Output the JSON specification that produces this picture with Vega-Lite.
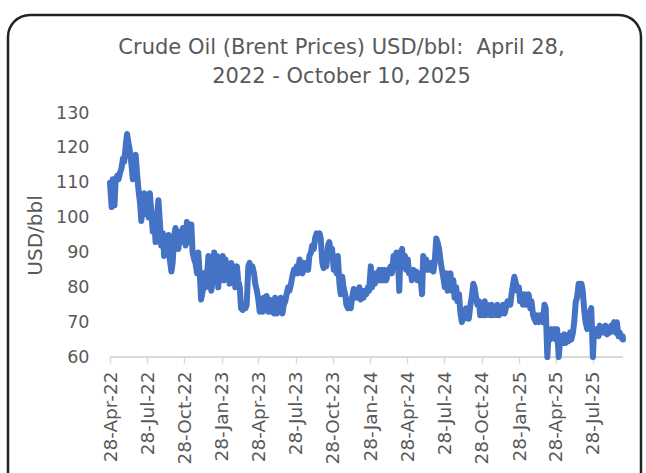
{
  "$schema": "https://vega.github.io/schema/vega-lite/v6.json",
  "width": 633,
  "height": 488,
  "autosize": {"type": "none"},
  "padding": {"left": 8, "top": 15, "right": 5, "bottom": -30},
  "background": "white",
  "config": {
    "view": {"stroke": "#222222", "strokeWidth": 2.5, "cornerRadius": 22, "fill": "white"},
    "font": "DejaVu Sans"
  },
  "title": {
    "text": ["Crude Oil (Brent Prices) USD/bbl:\u00a0 April 28,", "2022 - October 10, 2025"],
    "anchor": "middle",
    "frame": "group",
    "orient": "top",
    "fontSize": 21,
    "fontWeight": "normal",
    "color": "#595959",
    "font": "DejaVu Sans",
    "lineHeight": 29,
    "dx": 17,
    "offset": -72
  },
  "data": {
    "values": [
      {"d": "2022-04-28", "v": 110}, {"d": "2022-05-02", "v": 103}, {"d": "2022-05-05", "v": 111}, {"d": "2022-05-09", "v": 103.5},
      {"d": "2022-05-12", "v": 111}, {"d": "2022-05-16", "v": 112}, {"d": "2022-05-19", "v": 111}, {"d": "2022-05-23", "v": 113},
      {"d": "2022-05-26", "v": 114}, {"d": "2022-05-30", "v": 117}, {"d": "2022-06-02", "v": 116}, {"d": "2022-06-06", "v": 121},
      {"d": "2022-06-09", "v": 124}, {"d": "2022-06-13", "v": 121}, {"d": "2022-06-16", "v": 119}, {"d": "2022-06-20", "v": 115},
      {"d": "2022-06-23", "v": 111}, {"d": "2022-06-27", "v": 117}, {"d": "2022-06-30", "v": 118}, {"d": "2022-07-04", "v": 112},
      {"d": "2022-07-07", "v": 108}, {"d": "2022-07-11", "v": 104}, {"d": "2022-07-14", "v": 99}, {"d": "2022-07-18", "v": 104},
      {"d": "2022-07-21", "v": 107}, {"d": "2022-07-25", "v": 101}, {"d": "2022-07-28", "v": 106}, {"d": "2022-08-01", "v": 100},
      {"d": "2022-08-04", "v": 107}, {"d": "2022-08-08", "v": 101}, {"d": "2022-08-11", "v": 96}, {"d": "2022-08-15", "v": 99},
      {"d": "2022-08-18", "v": 93}, {"d": "2022-08-22", "v": 101}, {"d": "2022-08-25", "v": 105}, {"d": "2022-08-29", "v": 98},
      {"d": "2022-09-01", "v": 92}, {"d": "2022-09-05", "v": 95.5}, {"d": "2022-09-08", "v": 89}, {"d": "2022-09-12", "v": 94},
      {"d": "2022-09-15", "v": 90}, {"d": "2022-09-19", "v": 95}, {"d": "2022-09-22", "v": 88}, {"d": "2022-09-26", "v": 84.5},
      {"d": "2022-09-29", "v": 87}, {"d": "2022-10-03", "v": 95}, {"d": "2022-10-06", "v": 97}, {"d": "2022-10-10", "v": 93},
      {"d": "2022-10-13", "v": 91}, {"d": "2022-10-17", "v": 96}, {"d": "2022-10-20", "v": 93}, {"d": "2022-10-24", "v": 97},
      {"d": "2022-10-27", "v": 95}, {"d": "2022-10-31", "v": 92}, {"d": "2022-11-03", "v": 98.7}, {"d": "2022-11-07", "v": 97},
      {"d": "2022-11-10", "v": 93}, {"d": "2022-11-14", "v": 98}, {"d": "2022-11-17", "v": 90}, {"d": "2022-11-21", "v": 88},
      {"d": "2022-11-24", "v": 87}, {"d": "2022-11-28", "v": 84}, {"d": "2022-12-01", "v": 90}, {"d": "2022-12-05", "v": 83},
      {"d": "2022-12-08", "v": 76.5}, {"d": "2022-12-12", "v": 79}, {"d": "2022-12-15", "v": 84}, {"d": "2022-12-19", "v": 80},
      {"d": "2022-12-22", "v": 83}, {"d": "2022-12-26", "v": 89}, {"d": "2022-12-29", "v": 82}, {"d": "2023-01-02", "v": 79},
      {"d": "2023-01-05", "v": 82}, {"d": "2023-01-09", "v": 90}, {"d": "2023-01-12", "v": 84}, {"d": "2023-01-16", "v": 89},
      {"d": "2023-01-19", "v": 80}, {"d": "2023-01-23", "v": 88}, {"d": "2023-01-26", "v": 83}, {"d": "2023-01-30", "v": 89},
      {"d": "2023-02-02", "v": 82}, {"d": "2023-02-06", "v": 88}, {"d": "2023-02-09", "v": 84}, {"d": "2023-02-13", "v": 86},
      {"d": "2023-02-16", "v": 81}, {"d": "2023-02-20", "v": 87}, {"d": "2023-02-23", "v": 83}, {"d": "2023-02-27", "v": 86},
      {"d": "2023-03-02", "v": 80}, {"d": "2023-03-06", "v": 86}, {"d": "2023-03-09", "v": 82}, {"d": "2023-03-13", "v": 80},
      {"d": "2023-03-16", "v": 74}, {"d": "2023-03-20", "v": 73.5}, {"d": "2023-03-23", "v": 75}, {"d": "2023-03-27", "v": 74},
      {"d": "2023-03-30", "v": 75}, {"d": "2023-04-03", "v": 86}, {"d": "2023-04-06", "v": 87}, {"d": "2023-04-10", "v": 85},
      {"d": "2023-04-13", "v": 86}, {"d": "2023-04-17", "v": 84}, {"d": "2023-04-20", "v": 81}, {"d": "2023-04-24", "v": 79},
      {"d": "2023-04-27", "v": 77}, {"d": "2023-05-01", "v": 73}, {"d": "2023-05-04", "v": 76.5}, {"d": "2023-05-08", "v": 73},
      {"d": "2023-05-11", "v": 77}, {"d": "2023-05-15", "v": 74}, {"d": "2023-05-18", "v": 77.5}, {"d": "2023-05-22", "v": 73},
      {"d": "2023-05-25", "v": 76.5}, {"d": "2023-05-29", "v": 73}, {"d": "2023-06-01", "v": 75}, {"d": "2023-06-05", "v": 72.5},
      {"d": "2023-06-08", "v": 77}, {"d": "2023-06-12", "v": 72.5}, {"d": "2023-06-15", "v": 76}, {"d": "2023-06-19", "v": 73},
      {"d": "2023-06-22", "v": 77}, {"d": "2023-06-26", "v": 72.5}, {"d": "2023-06-29", "v": 75}, {"d": "2023-07-03", "v": 76},
      {"d": "2023-07-06", "v": 78}, {"d": "2023-07-10", "v": 80}, {"d": "2023-07-13", "v": 79}, {"d": "2023-07-17", "v": 81},
      {"d": "2023-07-20", "v": 83}, {"d": "2023-07-24", "v": 85}, {"d": "2023-07-27", "v": 84}, {"d": "2023-07-31", "v": 86},
      {"d": "2023-08-03", "v": 84}, {"d": "2023-08-07", "v": 88}, {"d": "2023-08-10", "v": 86}, {"d": "2023-08-14", "v": 84},
      {"d": "2023-08-17", "v": 87}, {"d": "2023-08-21", "v": 85}, {"d": "2023-08-24", "v": 87}, {"d": "2023-08-28", "v": 85},
      {"d": "2023-08-31", "v": 89}, {"d": "2023-09-04", "v": 90}, {"d": "2023-09-07", "v": 92}, {"d": "2023-09-11", "v": 91},
      {"d": "2023-09-14", "v": 94}, {"d": "2023-09-18", "v": 95.5}, {"d": "2023-09-21", "v": 94}, {"d": "2023-09-25", "v": 95.5},
      {"d": "2023-09-28", "v": 94}, {"d": "2023-10-02", "v": 87}, {"d": "2023-10-05", "v": 85.5}, {"d": "2023-10-09", "v": 88},
      {"d": "2023-10-12", "v": 86}, {"d": "2023-10-16", "v": 92}, {"d": "2023-10-19", "v": 93}, {"d": "2023-10-23", "v": 90},
      {"d": "2023-10-26", "v": 91}, {"d": "2023-10-30", "v": 85}, {"d": "2023-11-02", "v": 88}, {"d": "2023-11-06", "v": 84},
      {"d": "2023-11-09", "v": 89}, {"d": "2023-11-13", "v": 81}, {"d": "2023-11-16", "v": 78}, {"d": "2023-11-20", "v": 83},
      {"d": "2023-11-23", "v": 80}, {"d": "2023-11-27", "v": 78}, {"d": "2023-11-30", "v": 75}, {"d": "2023-12-04", "v": 74},
      {"d": "2023-12-07", "v": 76.5}, {"d": "2023-12-11", "v": 74}, {"d": "2023-12-14", "v": 77}, {"d": "2023-12-18", "v": 79.5},
      {"d": "2023-12-21", "v": 77}, {"d": "2023-12-25", "v": 79}, {"d": "2023-12-28", "v": 77}, {"d": "2024-01-01", "v": 80},
      {"d": "2024-01-04", "v": 76.5}, {"d": "2024-01-08", "v": 79}, {"d": "2024-01-11", "v": 77}, {"d": "2024-01-15", "v": 79},
      {"d": "2024-01-18", "v": 78}, {"d": "2024-01-22", "v": 80}, {"d": "2024-01-25", "v": 79}, {"d": "2024-01-29", "v": 86},
      {"d": "2024-02-01", "v": 80}, {"d": "2024-02-05", "v": 84}, {"d": "2024-02-08", "v": 81}, {"d": "2024-02-12", "v": 84},
      {"d": "2024-02-15", "v": 82}, {"d": "2024-02-19", "v": 85}, {"d": "2024-02-22", "v": 82}, {"d": "2024-02-26", "v": 85},
      {"d": "2024-02-29", "v": 82}, {"d": "2024-03-04", "v": 85}, {"d": "2024-03-07", "v": 82}, {"d": "2024-03-11", "v": 84},
      {"d": "2024-03-14", "v": 85}, {"d": "2024-03-18", "v": 86}, {"d": "2024-03-21", "v": 84}, {"d": "2024-03-25", "v": 89},
      {"d": "2024-03-28", "v": 87}, {"d": "2024-04-01", "v": 90}, {"d": "2024-04-04", "v": 89}, {"d": "2024-04-08", "v": 79},
      {"d": "2024-04-11", "v": 90}, {"d": "2024-04-15", "v": 91}, {"d": "2024-04-18", "v": 86}, {"d": "2024-04-22", "v": 89},
      {"d": "2024-04-25", "v": 85}, {"d": "2024-04-29", "v": 88}, {"d": "2024-05-02", "v": 84}, {"d": "2024-05-06", "v": 85},
      {"d": "2024-05-09", "v": 82}, {"d": "2024-05-13", "v": 85}, {"d": "2024-05-16", "v": 83}, {"d": "2024-05-20", "v": 84.5},
      {"d": "2024-05-23", "v": 82}, {"d": "2024-05-27", "v": 84}, {"d": "2024-05-30", "v": 83}, {"d": "2024-06-03", "v": 78},
      {"d": "2024-06-06", "v": 89}, {"d": "2024-06-10", "v": 86}, {"d": "2024-06-13", "v": 88}, {"d": "2024-06-17", "v": 85},
      {"d": "2024-06-20", "v": 87}, {"d": "2024-06-24", "v": 85}, {"d": "2024-06-27", "v": 87}, {"d": "2024-07-01", "v": 84.5},
      {"d": "2024-07-04", "v": 87}, {"d": "2024-07-08", "v": 94}, {"d": "2024-07-11", "v": 93}, {"d": "2024-07-15", "v": 91},
      {"d": "2024-07-18", "v": 88}, {"d": "2024-07-22", "v": 85}, {"d": "2024-07-25", "v": 83}, {"d": "2024-07-29", "v": 80},
      {"d": "2024-08-01", "v": 84}, {"d": "2024-08-05", "v": 79}, {"d": "2024-08-08", "v": 82}, {"d": "2024-08-12", "v": 84},
      {"d": "2024-08-15", "v": 79}, {"d": "2024-08-19", "v": 82}, {"d": "2024-08-22", "v": 77}, {"d": "2024-08-26", "v": 80},
      {"d": "2024-08-29", "v": 76}, {"d": "2024-09-02", "v": 78}, {"d": "2024-09-05", "v": 73}, {"d": "2024-09-09", "v": 70},
      {"d": "2024-09-12", "v": 73}, {"d": "2024-09-16", "v": 71}, {"d": "2024-09-19", "v": 74}, {"d": "2024-09-23", "v": 72},
      {"d": "2024-09-26", "v": 71}, {"d": "2024-09-30", "v": 75}, {"d": "2024-10-03", "v": 77}, {"d": "2024-10-07", "v": 81},
      {"d": "2024-10-10", "v": 80}, {"d": "2024-10-14", "v": 77}, {"d": "2024-10-17", "v": 75}, {"d": "2024-10-21", "v": 76},
      {"d": "2024-10-24", "v": 72}, {"d": "2024-10-28", "v": 74}, {"d": "2024-10-31", "v": 72}, {"d": "2024-11-04", "v": 76},
      {"d": "2024-11-07", "v": 72}, {"d": "2024-11-11", "v": 75}, {"d": "2024-11-14", "v": 73}, {"d": "2024-11-18", "v": 72},
      {"d": "2024-11-21", "v": 75}, {"d": "2024-11-25", "v": 72}, {"d": "2024-11-28", "v": 74.5}, {"d": "2024-12-02", "v": 72},
      {"d": "2024-12-05", "v": 75}, {"d": "2024-12-09", "v": 72}, {"d": "2024-12-12", "v": 74}, {"d": "2024-12-16", "v": 72.5},
      {"d": "2024-12-19", "v": 75}, {"d": "2024-12-23", "v": 72.5}, {"d": "2024-12-26", "v": 74}, {"d": "2024-12-30", "v": 76},
      {"d": "2025-01-02", "v": 76}, {"d": "2025-01-06", "v": 75}, {"d": "2025-01-09", "v": 78}, {"d": "2025-01-13", "v": 81},
      {"d": "2025-01-16", "v": 83}, {"d": "2025-01-20", "v": 81}, {"d": "2025-01-23", "v": 79}, {"d": "2025-01-27", "v": 80},
      {"d": "2025-01-30", "v": 76}, {"d": "2025-02-03", "v": 78}, {"d": "2025-02-06", "v": 75}, {"d": "2025-02-10", "v": 78},
      {"d": "2025-02-13", "v": 75}, {"d": "2025-02-17", "v": 77}, {"d": "2025-02-20", "v": 78}, {"d": "2025-02-24", "v": 74},
      {"d": "2025-02-27", "v": 76}, {"d": "2025-03-03", "v": 72}, {"d": "2025-03-06", "v": 71}, {"d": "2025-03-10", "v": 70},
      {"d": "2025-03-13", "v": 72}, {"d": "2025-03-17", "v": 70}, {"d": "2025-03-20", "v": 72}, {"d": "2025-03-24", "v": 71},
      {"d": "2025-03-27", "v": 70}, {"d": "2025-03-31", "v": 75}, {"d": "2025-04-03", "v": 74}, {"d": "2025-04-07", "v": 60},
      {"d": "2025-04-10", "v": 67}, {"d": "2025-04-14", "v": 65}, {"d": "2025-04-17", "v": 68}, {"d": "2025-04-21", "v": 66},
      {"d": "2025-04-24", "v": 68}, {"d": "2025-04-28", "v": 65}, {"d": "2025-05-01", "v": 68}, {"d": "2025-05-05", "v": 60},
      {"d": "2025-05-08", "v": 64}, {"d": "2025-05-12", "v": 66}, {"d": "2025-05-15", "v": 64}, {"d": "2025-05-19", "v": 66.5},
      {"d": "2025-05-22", "v": 64}, {"d": "2025-05-26", "v": 66}, {"d": "2025-05-29", "v": 64.5}, {"d": "2025-06-02", "v": 67},
      {"d": "2025-06-05", "v": 65}, {"d": "2025-06-09", "v": 67}, {"d": "2025-06-12", "v": 70}, {"d": "2025-06-16", "v": 76},
      {"d": "2025-06-19", "v": 77}, {"d": "2025-06-23", "v": 81}, {"d": "2025-06-26", "v": 80}, {"d": "2025-06-30", "v": 81},
      {"d": "2025-07-03", "v": 79}, {"d": "2025-07-07", "v": 73}, {"d": "2025-07-10", "v": 70}, {"d": "2025-07-14", "v": 68},
      {"d": "2025-07-17", "v": 70}, {"d": "2025-07-21", "v": 73}, {"d": "2025-07-24", "v": 74}, {"d": "2025-07-28", "v": 60},
      {"d": "2025-07-31", "v": 68}, {"d": "2025-08-04", "v": 66}, {"d": "2025-08-07", "v": 68}, {"d": "2025-08-11", "v": 66},
      {"d": "2025-08-14", "v": 69}, {"d": "2025-08-18", "v": 67}, {"d": "2025-08-21", "v": 68}, {"d": "2025-08-25", "v": 67},
      {"d": "2025-08-28", "v": 69}, {"d": "2025-09-01", "v": 66.5}, {"d": "2025-09-04", "v": 68}, {"d": "2025-09-08", "v": 67},
      {"d": "2025-09-11", "v": 69}, {"d": "2025-09-15", "v": 68}, {"d": "2025-09-18", "v": 70}, {"d": "2025-09-22", "v": 67},
      {"d": "2025-09-25", "v": 70}, {"d": "2025-09-29", "v": 66}, {"d": "2025-10-02", "v": 67}, {"d": "2025-10-06", "v": 65.5},
      {"d": "2025-10-09", "v": 66}, {"d": "2025-10-10", "v": 65}
    ]
  },
  "layer": [
    {
      "mark": {"type": "rule", "color": "#d9d9d9", "strokeWidth": 2},
      "encoding": {
        "x": {"datum": {"year": 2022, "month": 4, "date": 28, "utc": true}, "type": "temporal"},
        "x2": {"datum": {"year": 2025, "month": 10, "date": 10, "utc": true}},
        "y": {"datum": 60, "type": "quantitative"}
      }
    },
    {
      "mark": {"type": "line", "color": "#4472C4", "strokeWidth": 6, "strokeJoin": "round", "strokeCap": "round"},
      "encoding": {
        "x": {
          "field": "d",
          "type": "temporal",
          "scale": {
            "type": "utc",
            "domain": [{"year": 2022, "month": 4, "date": 28, "utc": true}, {"year": 2025, "month": 10, "date": 10, "utc": true}],
            "range": [102, 615]
          },
          "axis": {
            "orient": "bottom",
            "offset": -146,
            "domain": false,
            "grid": false,
            "title": null,
            "tickColor": "#d9d9d9",
            "tickSize": 6,
            "tickWidth": 1.5,
            "labelAngle": -90,
            "labelFontSize": 18.5,
            "labelColor": "#595959",
            "labelPadding": 8,
            "labelFont": "DejaVu Sans",
            "labelExpr": "utcFormat(datum.value, '%d-%b-%y')",
            "values": [
              {"year": 2022, "month": 4, "date": 28, "utc": true},
              {"year": 2022, "month": 7, "date": 28, "utc": true},
              {"year": 2022, "month": 10, "date": 28, "utc": true},
              {"year": 2023, "month": 1, "date": 28, "utc": true},
              {"year": 2023, "month": 4, "date": 28, "utc": true},
              {"year": 2023, "month": 7, "date": 28, "utc": true},
              {"year": 2023, "month": 10, "date": 28, "utc": true},
              {"year": 2024, "month": 1, "date": 28, "utc": true},
              {"year": 2024, "month": 4, "date": 28, "utc": true},
              {"year": 2024, "month": 7, "date": 28, "utc": true},
              {"year": 2024, "month": 10, "date": 28, "utc": true},
              {"year": 2025, "month": 1, "date": 28, "utc": true},
              {"year": 2025, "month": 4, "date": 28, "utc": true},
              {"year": 2025, "month": 7, "date": 28, "utc": true}
            ]
          }
        },
        "y": {
          "field": "v",
          "type": "quantitative",
          "scale": {"domain": [60, 130], "range": [342, 98], "nice": false, "zero": false},
          "axis": {
            "orient": "left",
            "offset": -81,
            "values": [60, 70, 80, 90, 100, 110, 120, 130],
            "domain": false,
            "ticks": false,
            "grid": false,
            "labelPadding": 0,
            "labelFontSize": 17.5,
            "labelColor": "#595959",
            "labelFont": "DejaVu Sans",
            "title": "USD/bbl",
            "titleFont": "DejaVu Sans",
            "titleFontSize": 20,
            "titleFontWeight": "normal",
            "titleColor": "#595959",
            "titleAngle": -90,
            "titleBaseline": "middle",
            "titleAlign": "center",
            "titleX": -54,
            "titleY": 220
          }
        }
      }
    }
  ]
}
